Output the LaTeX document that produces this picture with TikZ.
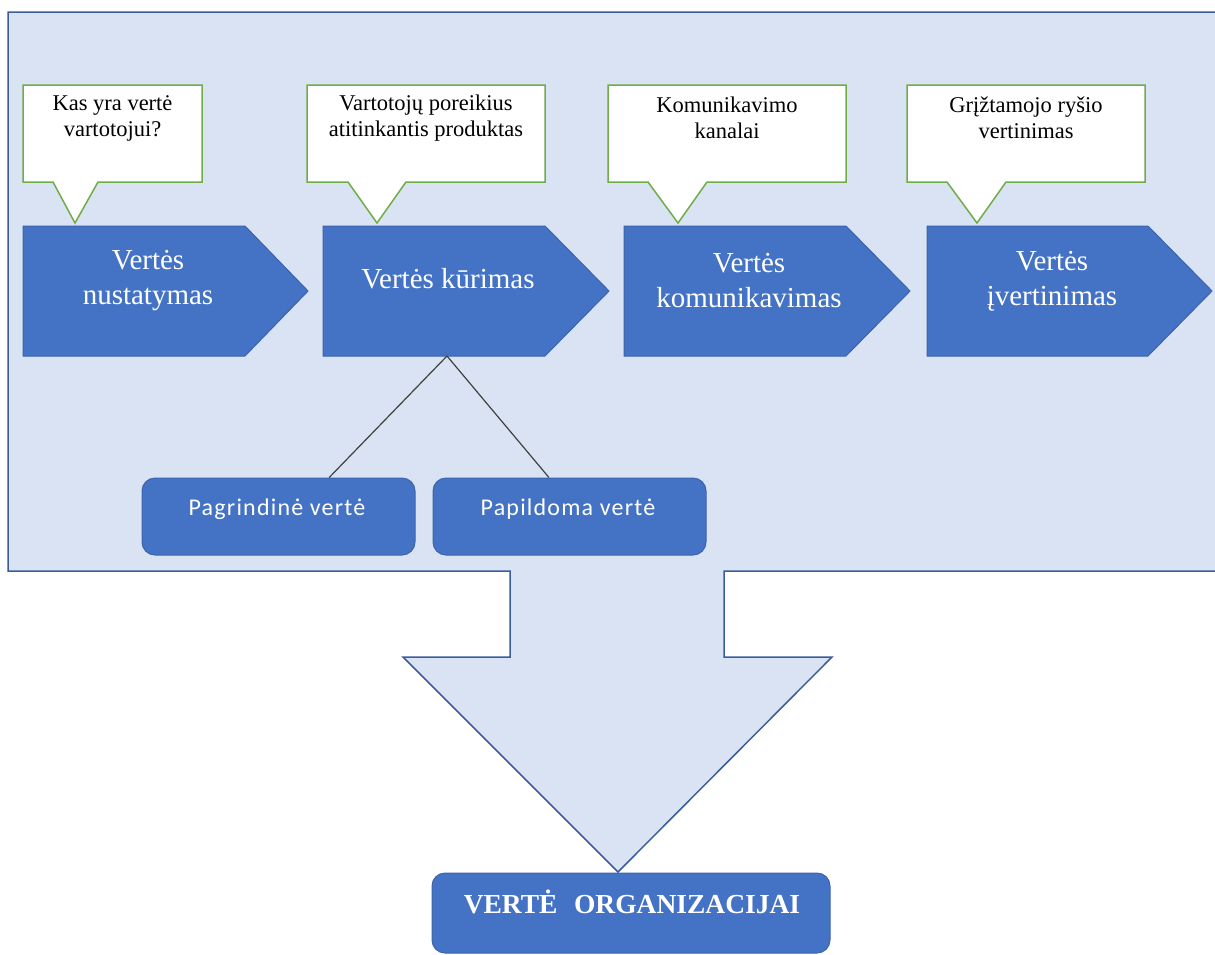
\documentclass[tikz,border=0pt]{standalone}
\usepackage{fontspec}
\setmainfont{Liberation Serif}
\newfontfamily\calfont[LetterSpace=5]{Carlito}
\usetikzlibrary{calc}
\definecolor{panelfill}{HTML}{DAE3F3}
\definecolor{panelline}{HTML}{3A5D9C}
\definecolor{chevfill}{HTML}{4472C4}
\definecolor{chevline}{HTML}{3C64AC}
\definecolor{callline}{HTML}{70AD47}
\definecolor{connline}{HTML}{404040}
\tikzset{
  panel/.style={fill=panelfill, draw=panelline, line width=1.5pt, line join=miter},
  chev/.style={fill=chevfill, draw=chevline, line width=1pt},
  chevtxt/.style={text=white, font=\fontsize{29}{35}\selectfont, align=center, inner sep=0pt},
  callout/.style={fill=white, draw=callline, line width=1.5pt},
  calltxt/.style={text=black, font=\fontsize{22.5}{26}\selectfont, align=center, inner sep=0pt},
  rbox/.style={fill=chevfill, draw=chevline, line width=1pt, rounded corners=13pt, inner sep=0pt},
  sanstxt/.style={text=white, font=\calfont\fontsize{24}{28}\selectfont, inner sep=0pt},
  boldtxt/.style={text=white, font=\bfseries\fontsize{27.5}{32}\selectfont, inner sep=0pt},
  conn/.style={draw=connline, line width=1.2pt}
}
\begin{document}
\begin{tikzpicture}[x=1pt,y=-1pt]
\useasboundingbox (0,0) rectangle (1215,954);
\clip (0,0) rectangle (1215,954);
\fill[white] (0,0) rectangle (1215,954);
% panel with down arrow
\draw[panel] (8,12) -- (1225,12) -- (1225,571) -- (724,571) -- (724,657) -- (832,657)
  -- (618,872) -- (403,657) -- (510,657) -- (510,571) -- (8,571) -- cycle;
% callouts
\draw[callout] (23,85) -- (202,85) -- (202,182) -- (98,182) -- (75,223) -- (53,182) -- (23,182) -- cycle;
\node[calltxt] (t1) at (112.5,118) {Kas yra vertė\\vartotojui?};
\draw[callout] (307,85) -- (545,85) -- (545,182) -- (406,182) -- (377,223) -- (348,182) -- (307,182) -- cycle;
\node[calltxt] (t2) at (426,118) {Vartotojų poreikius\\atitinkantis produktas};
\draw[callout] (608,85) -- (846,85) -- (846,182) -- (707,182) -- (678,223) -- (648,182) -- (608,182) -- cycle;
\node[calltxt] (t3) at (727,118) {Komunikavimo\\kanalai};
\draw[callout] (907,85) -- (1145,85) -- (1145,182) -- (1006,182) -- (977,223) -- (947,182) -- (907,182) -- cycle;
\node[calltxt] (t4) at (1026,118) {Grįžtamojo ryšio\\vertinimas};
% chevrons
\draw[chev] (23,226) -- (245,226) -- (308,291) -- (245,356) -- (23,356) -- cycle;
\node[chevtxt] (c1) at (148,281) {Vertės\\nustatymas};
\draw[chev] (323,226) -- (545,226) -- (609,291) -- (545,356) -- (323,356) -- cycle;
\node[chevtxt] (c2) at (448,279) {Vertės kūrimas};
\draw[chev] (624,226) -- (846,226) -- (910,291) -- (846,356) -- (624,356) -- cycle;
\node[chevtxt] (c3) at (749,281) {Vertės\\komunikavimas};
\draw[chev] (927,226) -- (1148,226) -- (1212,291) -- (1148,356) -- (927,356) -- cycle;
\node[chevtxt] (c4) at (1052,281) {Vertės\\įvertinimas};
\coordinate (k2) at (447,356);
% sub boxes
\node[rbox, minimum width=273, minimum height=77] (pb) at (278.5,516.5) {};
\node[sanstxt] (pbt) at (277,509) {Pagrindinė vertė};
\node[rbox, minimum width=273, minimum height=77] (pp) at (569.5,516.5) {};
\node[sanstxt] (ppt) at (568,509) {Papildoma vertė};
\draw[conn] (k2) -- ($(pb.north west)!0.685!(pb.north east)$);
\draw[conn] (k2) -- ($(pp.north west)!0.425!(pp.north east)$);
% bottom box
\node[rbox, minimum width=398, minimum height=80] (org) at (631,913) {};
\node[boldtxt] (orgt) at (632,902) {VERTĖ\hspace{0.6em}ORGANIZACIJAI};
\end{tikzpicture}
\end{document}
